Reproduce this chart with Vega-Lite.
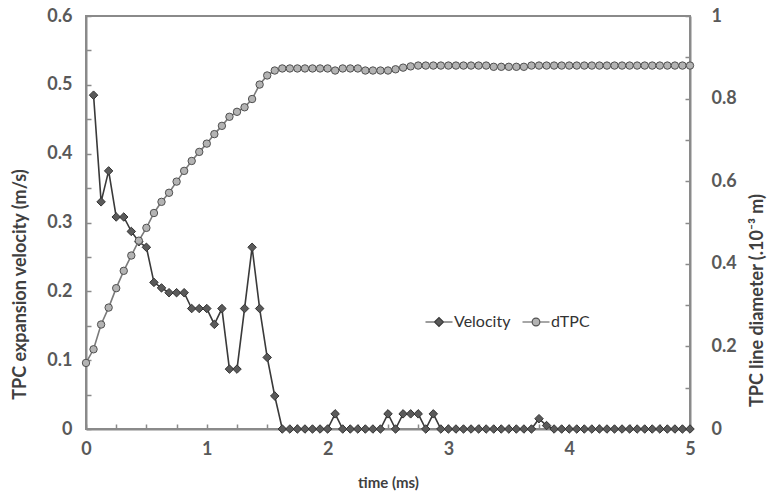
{
  "$schema": "https://vega.github.io/schema/vega-lite/v6.json",
  "width": 604,
  "height": 413,
  "autosize": {"type": "none"},
  "padding": {"left": 86, "top": 16, "right": 77, "bottom": 69},
  "background": "white",
  "config": {
    "view": {"stroke": "#8a8a8a", "strokeWidth": 2},
    "axis": {
      "domainColor": "#8a8a8a", "domainWidth": 2,
      "ticks": false,
      "grid": true, "gridColor": "#8a8a8a", "gridWidth": 1.5, "gridOpacity": 1,
      "labelFont": "Lato", "labelFontSize": 18, "labelFontWeight": "bold", "labelColor": "#595959",
      "titleFont": "Lato", "titleFontSize": 18, "titleFontWeight": "bold", "titleColor": "#404040"
    }
  },
  "data": {"values": [
    {"t":0,"dTPC":0.16},
    {"t":0.0625,"Velocity":0.485,"dTPC":0.193},
    {"t":0.125,"Velocity":0.33,"dTPC":0.253},
    {"t":0.1875,"Velocity":0.375,"dTPC":0.294},
    {"t":0.25,"Velocity":0.308,"dTPC":0.341},
    {"t":0.3125,"Velocity":0.308,"dTPC":0.383},
    {"t":0.375,"Velocity":0.287,"dTPC":0.42},
    {"t":0.4375,"Velocity":0.272,"dTPC":0.456},
    {"t":0.5,"Velocity":0.264,"dTPC":0.487},
    {"t":0.5625,"Velocity":0.213,"dTPC":0.523},
    {"t":0.625,"Velocity":0.205,"dTPC":0.55},
    {"t":0.6875,"Velocity":0.198,"dTPC":0.572},
    {"t":0.75,"Velocity":0.198,"dTPC":0.599},
    {"t":0.8125,"Velocity":0.198,"dTPC":0.625},
    {"t":0.875,"Velocity":0.175,"dTPC":0.649},
    {"t":0.9375,"Velocity":0.175,"dTPC":0.671},
    {"t":1,"Velocity":0.175,"dTPC":0.691},
    {"t":1.0625,"Velocity":0.152,"dTPC":0.714},
    {"t":1.125,"Velocity":0.175,"dTPC":0.734},
    {"t":1.1875,"Velocity":0.087,"dTPC":0.756},
    {"t":1.25,"Velocity":0.087,"dTPC":0.768},
    {"t":1.3125,"Velocity":0.175,"dTPC":0.779},
    {"t":1.375,"Velocity":0.264,"dTPC":0.799},
    {"t":1.4375,"Velocity":0.175,"dTPC":0.834},
    {"t":1.5,"Velocity":0.104,"dTPC":0.856},
    {"t":1.5625,"Velocity":0.048,"dTPC":0.868},
    {"t":1.625,"Velocity":0,"dTPC":0.873},
    {"t":1.6875,"Velocity":0,"dTPC":0.873},
    {"t":1.75,"Velocity":0,"dTPC":0.873},
    {"t":1.8125,"Velocity":0,"dTPC":0.873},
    {"t":1.875,"Velocity":0,"dTPC":0.873},
    {"t":1.9375,"Velocity":0,"dTPC":0.873},
    {"t":2,"Velocity":0,"dTPC":0.873},
    {"t":2.0625,"Velocity":0.022,"dTPC":0.868},
    {"t":2.125,"Velocity":0,"dTPC":0.873},
    {"t":2.1875,"Velocity":0,"dTPC":0.873},
    {"t":2.25,"Velocity":0,"dTPC":0.873},
    {"t":2.3125,"Velocity":0,"dTPC":0.868},
    {"t":2.375,"Velocity":0,"dTPC":0.868},
    {"t":2.4375,"Velocity":0,"dTPC":0.868},
    {"t":2.5,"Velocity":0.022,"dTPC":0.868},
    {"t":2.5625,"Velocity":0,"dTPC":0.871},
    {"t":2.625,"Velocity":0.022,"dTPC":0.875},
    {"t":2.6875,"Velocity":0.022,"dTPC":0.878},
    {"t":2.75,"Velocity":0.022,"dTPC":0.88},
    {"t":2.8125,"Velocity":0,"dTPC":0.88},
    {"t":2.875,"Velocity":0.022,"dTPC":0.88},
    {"t":2.9375,"Velocity":0,"dTPC":0.88},
    {"t":3,"Velocity":0,"dTPC":0.88},
    {"t":3.0625,"Velocity":0,"dTPC":0.88},
    {"t":3.125,"Velocity":0,"dTPC":0.88},
    {"t":3.1875,"Velocity":0,"dTPC":0.88},
    {"t":3.25,"Velocity":0,"dTPC":0.88},
    {"t":3.3125,"Velocity":0,"dTPC":0.88},
    {"t":3.375,"Velocity":0,"dTPC":0.877},
    {"t":3.4375,"Velocity":0,"dTPC":0.877},
    {"t":3.5,"Velocity":0,"dTPC":0.877},
    {"t":3.5625,"Velocity":0,"dTPC":0.877},
    {"t":3.625,"Velocity":0,"dTPC":0.877},
    {"t":3.6875,"Velocity":0,"dTPC":0.88},
    {"t":3.75,"Velocity":0.015,"dTPC":0.88},
    {"t":3.8125,"Velocity":0.005,"dTPC":0.88},
    {"t":3.875,"Velocity":0,"dTPC":0.88},
    {"t":3.9375,"Velocity":0,"dTPC":0.88},
    {"t":4,"Velocity":0,"dTPC":0.88},
    {"t":4.0625,"Velocity":0,"dTPC":0.88},
    {"t":4.125,"Velocity":0,"dTPC":0.88},
    {"t":4.1875,"Velocity":0,"dTPC":0.88},
    {"t":4.25,"Velocity":0,"dTPC":0.88},
    {"t":4.3125,"Velocity":0,"dTPC":0.88},
    {"t":4.375,"Velocity":0,"dTPC":0.88},
    {"t":4.4375,"Velocity":0,"dTPC":0.88},
    {"t":4.5,"Velocity":0,"dTPC":0.88},
    {"t":4.5625,"Velocity":0,"dTPC":0.88},
    {"t":4.625,"Velocity":0,"dTPC":0.88},
    {"t":4.6875,"Velocity":0,"dTPC":0.88},
    {"t":4.75,"Velocity":0,"dTPC":0.88},
    {"t":4.8125,"Velocity":0,"dTPC":0.88},
    {"t":4.875,"Velocity":0,"dTPC":0.88},
    {"t":4.9375,"Velocity":0,"dTPC":0.88},
    {"t":5,"Velocity":0,"dTPC":0.88}
  ]},
  "encoding": {
    "x": {
      "field": "t", "type": "quantitative",
      "scale": {"domain": [0, 5], "nice": false, "zero": false},
      "axis": {
        "title": "time (ms)",
        "titleFontSize": 15,
        "grid": true,
        "gridDash": [5, 408], "gridDashOffset": 5,
        "values": [0,0.25,0.5,0.75,1,1.25,1.5,1.75,2,2.25,2.5,2.75,3,3.25,3.5,3.75,4,4.25,4.5,4.75,5],
        "labelExpr": "datum.value % 1 === 0 ? format(datum.value, 'd') : ''",
        "labelPadding": 11,
        "labelFlush": false,
        "titleY": 53, "titleBaseline": "middle"
      }
    }
  },
  "layer": [
    {
      "transform": [
        {"filter": "isValid(datum.Velocity)"},
        {"fold": ["Velocity"], "as": ["series", "value"]}
      ],
      "encoding": {
        "y": {
          "field": "value", "type": "quantitative",
          "scale": {"domain": [0, 0.6], "nice": false},
          "axis": {
            "orient": "left",
            "title": "TPC expansion velocity (m/s)",
            "grid": true,
            "gridDash": [5, 3000],
            "values": [0,0.05,0.1,0.15,0.2,0.25,0.3,0.35,0.4,0.45,0.5,0.55,0.6],
            "labelExpr": "round(datum.value*100) % 10 === 0 ? format(datum.value, '~g') : ''",
            "labelPadding": 14,
            "labelFlush": false,
            "titleX": -66, "titleY": 268, "titleAngle": 270, "titleBaseline": "middle", "titleAlign": "center"
          }
        }
      },
      "layer": [
        {"mark": {"type": "line", "color": "#3a3a3a", "strokeWidth": 1.6}},
        {
          "mark": {"type": "point", "shape": "diamond", "filled": true, "size": 72, "stroke": "#333333", "strokeWidth": 1, "opacity": 1},
          "encoding": {
            "fill": {"field": "series", "type": "nominal", "scale": {"domain": ["Velocity"], "range": ["#5a5a5a"]},
              "legend": {
                "orient": "none", "legendX": 345, "legendY": 298, "title": null,
                "symbolSize": 81, "labelFont": "Lato", "labelFontSize": 16, "labelColor": "#333333",
                "labelOffset": 7,
                "symbolType": "M-3,0H-1M-1,0L0,-1L1,0L0,1Z M1,0H3",
                "symbolStrokeColor": "#3a3a3a", "symbolStrokeWidth": 1.2
              }}
          }
        }
      ]
    },
    {
      "transform": [
        {"fold": ["dTPC"], "as": ["series", "value"]}
      ],
      "encoding": {
        "y": {
          "field": "value", "type": "quantitative",
          "scale": {"domain": [0, 1], "nice": false},
          "axis": {
            "orient": "right",
            "title": "TPC line diameter (.10⁻³ m)",
            "grid": true,
            "gridDash": [5, 3000],
            "values": [0,0.1,0.2,0.3,0.4,0.5,0.6,0.7,0.8,0.9,1],
            "labelExpr": "round(datum.value*10) % 2 === 0 ? format(datum.value, '~g') : ''",
            "labelPadding": 21,
            "labelFlush": false,
            "titleX": 67, "titleY": 284, "titleAngle": 270, "titleBaseline": "middle", "titleAlign": "center"
          }
        }
      },
      "layer": [
        {"mark": {"type": "line", "color": "#7a7a7a", "strokeWidth": 1.6}},
        {
          "mark": {"type": "point", "shape": "circle", "filled": true, "size": 55, "stroke": "#505050", "strokeWidth": 1, "opacity": 1},
          "encoding": {
            "fill": {"field": "series", "type": "nominal", "scale": {"domain": ["dTPC"], "range": ["#b3b3b3"]},
              "legend": {
                "orient": "none", "legendX": 442, "legendY": 298, "title": null,
                "symbolSize": 81, "labelFont": "Lato", "labelFontSize": 16, "labelColor": "#333333",
                "labelOffset": 7,
                "symbolType": "M-3,0H-0.85M-0.85,0A0.85,0.85 0 1,0 0.85,0A0.85,0.85 0 1,0 -0.85,0Z M0.85,0H3",
                "symbolStrokeColor": "#505050", "symbolStrokeWidth": 1.2
              }}
          }
        }
      ]
    }
  ],
  "resolve": {"scale": {"y": "independent", "fill": "independent"}, "legend": {"fill": "independent"}}
}
